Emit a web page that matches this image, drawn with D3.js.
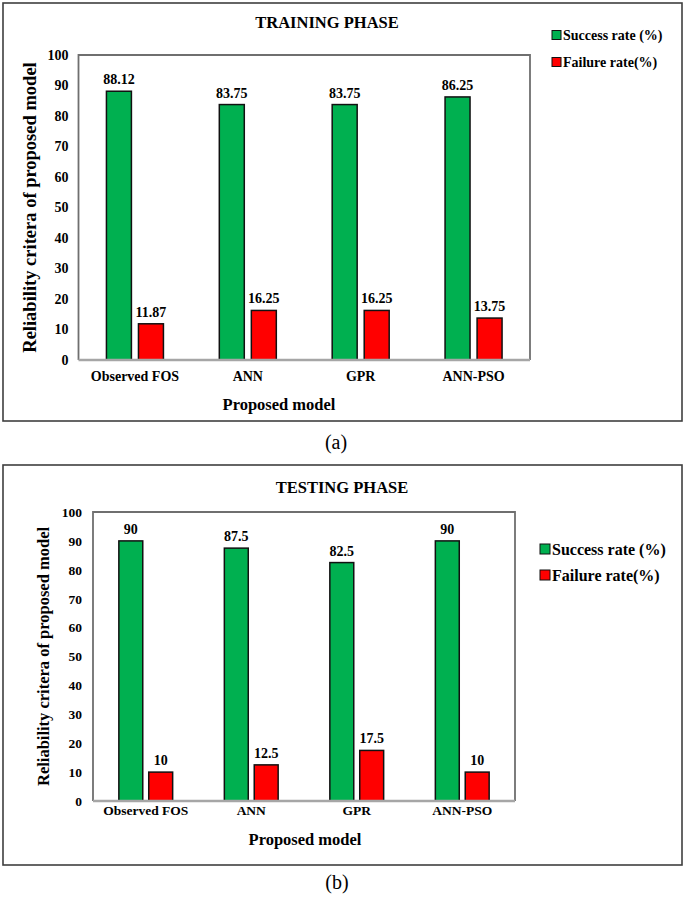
<!DOCTYPE html>
<html>
<head>
<meta charset="utf-8">
<script src="https://cdn.jsdelivr.net/npm/d3@7"></script>
<style>
  html, body { margin: 0; padding: 0; background: #fff; }
  svg { display: block; }
  text { font-family: "Liberation Serif", "Times New Roman", serif; fill: #000; }
</style>
</head>
<body>
<svg id="chart" width="685" height="897"></svg>
<script>
// ---- data ----
const categories = ["Observed FOS", "ANN", "GPR", "ANN-PSO"];
const seriesNames = ["Success rate (%)", "Failure rate(%)"];
const trainSuccess = [88.12, 83.75, 83.75, 86.25];
const trainFailure = [11.87, 16.25, 16.25, 13.75];
const testSuccess = [90, 87.5, 82.5, 90];
const testFailure = [10, 12.5, 17.5, 10];
const trainLabels = ["88.12", "83.75", "83.75", "86.25"];
const trainFailLabels = ["11.87", "16.25", "16.25", "13.75"];
const testLabels = ["90", "87.5", "82.5", "90"];
const testFailLabels = ["10", "12.5", "17.5", "10"];
const yTicks = [0, 10, 20, 30, 40, 50, 60, 70, 80, 90, 100];
const colors = ["#00B050", "#FF0000"];

const svg = d3.select("#chart");
const SERIF = "'Liberation Serif', 'Times New Roman', serif";

function panel(cfg) {
  const g = svg.append("g").attr("font-family", SERIF);
  // outer border
  g.append("rect").attr("x", cfg.box[0]).attr("y", cfg.box[1])
    .attr("width", cfg.box[2]).attr("height", cfg.box[3])
    .attr("fill", "none").attr("stroke", "#3f3f3f").attr("stroke-width", 1.6);

  const x0 = d3.scaleBand().domain(categories).range([cfg.left, cfg.right]);
  const groupW = x0.bandwidth() * cfg.groupFrac;
  const x1 = d3.scaleBand().domain([0, 1]).range([0, groupW]).paddingInner(cfg.gapFrac);
  const y = d3.scaleLinear().domain([0, 100]).range([cfg.bottom, cfg.top]);

  // plot frame (top, left, right)
  g.append("path")
    .attr("d", `M${cfg.left},${cfg.bottom}V${cfg.top}H${cfg.right}V${cfg.bottom}`)
    .attr("fill", "none").attr("stroke", "#6f6f6f").attr("stroke-width", 1.8);

  // y axis
  const ya = g.append("g").attr("transform", `translate(${cfg.left},0)`)
    .call(d3.axisLeft(y).tickValues(yTicks).tickSize(0).tickPadding(cfg.tickPad));
  ya.attr("font-family", SERIF);
  ya.select(".domain").remove();
  ya.selectAll("text").style("font-family", SERIF).style("font-weight", "bold")
    .style("font-size", cfg.tickFont + "px").attr("fill", "#000");

  // bars
  const data = [];
  categories.forEach((c, i) => {
    data.push({ c, s: 0, v: cfg.success[i], lab: cfg.sLabels[i] });
    data.push({ c, s: 1, v: cfg.failure[i], lab: cfg.fLabels[i] });
  });
  const bx = d => x0(d.c) + (x0.bandwidth() - groupW) / 2 + x1(d.s);
  g.selectAll("rect.bar").data(data).enter().append("rect").attr("class", "bar")
    .attr("x", bx).attr("width", x1.bandwidth())
    .attr("y", d => y(d.v)).attr("height", d => y(0) - y(d.v))
    .attr("fill", d => colors[d.s]).attr("stroke", "#111").attr("stroke-width", 1.5);

  g.selectAll("text.val").data(data).enter().append("text").attr("class", "val")
    .attr("x", d => bx(d) + x1.bandwidth() / 2).attr("y", d => y(d.v) - 7)
    .attr("text-anchor", "middle").style("font-weight", "bold").style("font-size", "14px")
    .text(d => d.lab);

  // x axis baseline
  g.append("line").attr("x1", cfg.left).attr("x2", cfg.right)
    .attr("y1", cfg.bottom).attr("y2", cfg.bottom)
    .attr("stroke", "#a6a6a6").attr("stroke-width", 2.6);

  // category labels
  g.selectAll("text.cat").data(categories).enter().append("text").attr("class", "cat")
    .attr("x", d => x0(d) + x0.bandwidth() / 2).attr("y", cfg.catY)
    .attr("text-anchor", "middle").style("font-weight", "bold").style("font-size", cfg.catFont + "px")
    .text(d => d);

  // axis titles
  g.append("text").attr("x", cfg.xTitle[0]).attr("y", cfg.xTitle[1])
    .attr("text-anchor", "middle").style("font-weight", "bold").style("font-size", "16.5px")
    .text("Proposed model");
  g.append("text")
    .attr("transform", `translate(${cfg.yTitleX},${(cfg.top + cfg.bottom) / 2}) rotate(-90)`)
    .attr("text-anchor", "middle").attr("dy", "0.35em")
    .style("font-weight", "bold").style("font-size", cfg.yTitleFont + "px")
    .text("Reliability critera of proposed model");

  // title
  g.append("text").attr("x", cfg.title[0]).attr("y", cfg.title[1])
    .attr("text-anchor", "middle").style("font-weight", "bold").style("font-size", "16.5px")
    .text(cfg.titleText);

  // legend
  seriesNames.forEach((n, i) => {
    const ly = cfg.legY[i];
    g.append("rect").attr("x", cfg.legX).attr("y", ly - cfg.legSq / 2)
      .attr("width", cfg.legSq).attr("height", cfg.legSq)
      .attr("fill", colors[i]).attr("stroke", "#111").attr("stroke-width", 1);
    g.append("text").attr("x", cfg.legX + cfg.legSq + 2).attr("y", ly).attr("dy", "0.35em")
      .style("font-weight", "bold").style("font-size", cfg.legFont + "px").text(n);
  });

  // caption
  svg.append("text").attr("x", cfg.caption[0]).attr("y", cfg.caption[1])
    .attr("font-family", SERIF)
    .attr("text-anchor", "middle").style("font-size", "20px").text(cfg.captionText);
}

panel({
  box: [3, 3, 679, 418],
  left: 78.5, right: 530, top: 55, bottom: 360,
  groupFrac: 0.505, gapFrac: 0.22,
  success: trainSuccess, failure: trainFailure,
  sLabels: trainLabels, fLabels: trainFailLabels,
  tickPad: 10, tickFont: 14,
  catY: 381, catFont: 14,
  xTitle: [279, 410],
  yTitleX: 30, yTitleFont: 18.5,
  title: [327, 28], titleText: "TRAINING PHASE",
  legX: 552, legY: [35, 62], legSq: 9, legFont: 14,
  caption: [336, 449], captionText: "(a)"
});

panel({
  box: [3, 465, 679, 400],
  left: 93, right: 515, top: 512, bottom: 801,
  groupFrac: 0.51, gapFrac: 0.2,
  success: testSuccess, failure: testFailure,
  sLabels: testLabels, fLabels: testFailLabels,
  tickPad: 11, tickFont: 13.5,
  catY: 815, catFont: 13.5,
  xTitle: [305, 845],
  yTitleX: 43, yTitleFont: 16.5,
  title: [342, 493], titleText: "TESTING PHASE",
  legX: 540, legY: [549, 575], legSq: 10, legFont: 16,
  caption: [337, 889], captionText: "(b)"
});
</script>
</body>
</html>
